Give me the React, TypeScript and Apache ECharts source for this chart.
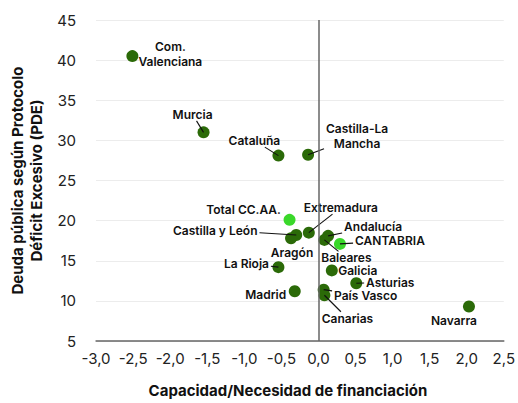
import React, { useEffect, useRef } from "react";
import * as echarts from "echarts";

const regions = [
  "Com.\nValenciana", "Murcia", "Cataluña", "Castilla-La\nMancha", "Total CC.AA.",
  "Extremadura", "Castilla y León", "Aragón", "Andalucía", "Baleares", "CANTABRIA",
  "La Rioja", "Galicia", "Asturias", "Madrid", "País Vasco", "Canarias", "Navarra",
];
const capacidad = [
  -2.51, -1.55, -0.54, -0.14, -0.39,
  -0.13, -0.30, -0.37, 0.13, 0.08, 0.29,
  -0.54, 0.18, 0.51, -0.32, 0.07, 0.08, 2.03,
];
const deuda = [
  40.5, 31.0, 28.1, 28.2, 20.1,
  18.5, 18.2, 17.8, 18.1, 17.6, 17.1,
  14.2, 13.8, 12.2, 11.2, 11.4, 10.7, 9.3,
];
const highlighted = ["Total CC.AA.", "CANTABRIA"];

// label placement (offset of label centre from point, px) and whether a leader line is drawn
const labelOffsets: [number, number, boolean][] = [
  [38, -2, false], [-11, -18, true], [-24, -15, true], [49, -19, true], [-46, -10, false],
  [32, -25, true], [-81, -5, true], [1, 14, false], [45, -9, true], [22, 18, true], [50, -3, true],
  [-32, -4, true], [26, 0, false], [34, -1, true], [-29, 3, false], [42, 6, true], [23, 23, true], [-15, 14, false],
];

const xTicks = { min: -3, max: 2.5, interval: 0.5 };
const yTicks = { min: 5, max: 45, interval: 5 };

const FONT = "Inter, 'Noto Sans', sans-serif";
const DARK = "#2b6a08";
const LIGHT = "#3ad82a";
const LABEL_FONT = `600 12px ${FONT}`;
const LINE_H = 15;

function measure(text: string): [number, number] {
  const lines = text.split("\n");
  let w = 0;
  try {
    const ctx = document.createElement("canvas").getContext("2d");
    if (ctx) {
      ctx.font = LABEL_FONT;
      lines.forEach((l) => { w = Math.max(w, ctx.measureText(l).width); });
    }
  } catch (e) { w = 0; }
  if (!(w > 0)) w = Math.max(...lines.map((l) => l.length * 6.5));
  return [w, lines.length * LINE_H];
}

export default function App() {
  const ref = useRef<HTMLDivElement>(null);
  useEffect(() => {
    if (!ref.current) return;
    const chart = echarts.init(ref.current, null, { renderer: "svg" });
    const points = regions.map((name, i) => ({
      name,
      value: [capacidad[i], deuda[i]],
      itemStyle: { color: highlighted.includes(name) ? LIGHT : DARK, opacity: 1 },
    }));
    const renderLabel = (params: any, api: any) => {
      const i = params.dataIndex;
      const p = api.coord([api.value(0), api.value(1)]);
      const [dx, dy, withLine] = labelOffsets[i];
      const cx = p[0] + dx;
      const cy = p[1] + dy;
      const children: any[] = [];
      if (withLine) {
        const [w, h] = measure(regions[i]);
        const hw = w / 2 + 2;
        const hh = h / 2 - 1;
        const vx = p[0] - cx;
        const vy = p[1] - cy;
        const tx = vx !== 0 ? hw / Math.abs(vx) : 1e9;
        const ty = vy !== 0 ? hh / Math.abs(vy) : 1e9;
        const tb = Math.min(tx, ty, 1);
        children.push({
          type: "line",
          shape: { x1: p[0], y1: p[1], x2: cx + vx * tb, y2: cy + vy * tb },
          style: { stroke: "#111", lineWidth: 1.1 },
        });
      }
      children.push({
        type: "text",
        x: cx,
        y: cy,
        style: {
          text: regions[i],
          font: LABEL_FONT,
          fill: "#111",
          align: "center",
          verticalAlign: "middle",
          lineHeight: LINE_H,
        },
      });
      return { type: "group", children };
    };
    chart.setOption({
      animation: false,
      textStyle: { fontFamily: FONT },
      grid: { left: 93, right: 13, top: 20, bottom: 55 },
      xAxis: {
        type: "value",
        min: xTicks.min,
        max: xTicks.max,
        interval: xTicks.interval,
        name: "Capacidad/Necesidad de financiación",
        nameLocation: "middle",
        nameGap: 42,
        nameTextStyle: { fontSize: 15, fontWeight: 700, color: "#111", fontFamily: FONT, padding: [0, 24, 0, 0] },
        axisLine: { show: true, onZero: false, lineStyle: { color: "#666", width: 1.5 } },
        axisTick: { show: false },
        splitLine: { show: false },
        axisLabel: {
          margin: 10,
          fontSize: 15,
          color: "#222",
          fontFamily: FONT,
          formatter: (v: number) => v.toFixed(1).replace(".", ","),
        },
      },
      yAxis: {
        type: "value",
        min: yTicks.min,
        max: yTicks.max,
        interval: yTicks.interval,
        name: "Deuda pública según Protocolo\nDéficit Excesivo (PDE)",
        nameLocation: "middle",
        nameRotate: 90,
        nameGap: 44,
        nameTextStyle: { fontSize: 15, fontWeight: 700, color: "#111", fontFamily: FONT, lineHeight: 19 },
        axisLine: { show: false },
        axisTick: { show: false },
        splitLine: { show: true, lineStyle: { color: "#ececec", width: 1 } },
        axisLabel: { margin: 20, fontSize: 15, color: "#222", fontFamily: FONT },
      },
      series: [
        {
          type: "scatter",
          symbolSize: 12,
          data: points,
          itemStyle: { opacity: 1 },
          markLine: {
            silent: true,
            symbol: "none",
            label: { show: false },
            lineStyle: { color: "#666", width: 1.5, type: "solid" },
            data: [{ xAxis: 0 }],
          },
          z: 3,
        },
        {
          type: "custom",
          data: points.map((d) => d.value),
          encode: { x: 0, y: 1 },
          renderItem: renderLabel,
          clip: false,
          z: 4,
        },
      ],
    });
    return () => chart.dispose();
  }, []);
  return <div ref={ref} style={{ position: "absolute", left: 0, top: 0, width: 518, height: 403 }} />;
}
